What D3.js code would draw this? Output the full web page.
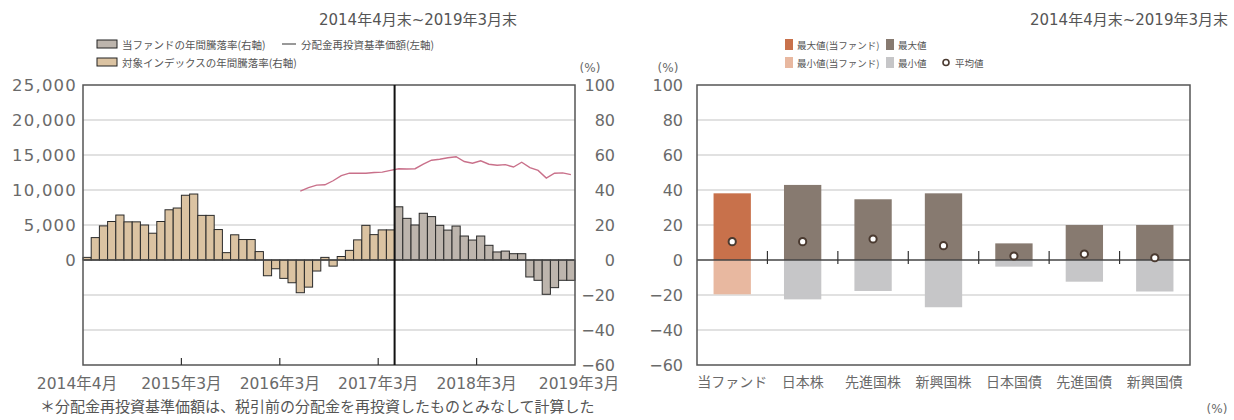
<!DOCTYPE html>
<html><head><meta charset="utf-8">
<script src="https://cdn.jsdelivr.net/npm/d3@7/dist/d3.min.js"></script>
<style>body{margin:0;background:#fff} svg{display:block}</style>
</head><body><svg id="c" width="1234" height="420"></svg>
<script>
// ---------- data ----------
const periodTitle = "2014年4月末~2019年3月末";
const monthTickLabels = ["2014年4月","2015年3月","2016年3月","2017年3月","2018年3月","2019年3月"];
const monthTickKeys = ["2014-04","2015-03","2016-03","2017-03","2018-03","2019-03"];
const leftAxisTicks = [0,5000,10000,15000,20000,25000];
const pctTicks = [-60,-40,-20,0,20,40,60,80,100];
// 対象インデックスの年間騰落率 2014-04 .. 2017-05
const indexReturns = [1.5,12.8,19.5,22,25.7,21.8,21.8,20,15.3,22,28.7,29.7,37,37.7,25.5,25.5,17.4,4.2,14.4,11.7,11.7,4.8,
  -9,-5,-10.5,-13,-18.7,-15.5,-6.3,1.5,-3.5,2,5.5,11.5,19.8,14.5,17.2,17.2];
// 当ファンドの年間騰落率 2017-06 .. 2019-03
const fundReturns = [30.4,23.8,20,26.7,24.8,19.8,17.1,19.4,13.7,11.4,13.7,8.4,4.6,5.1,3.6,3.6,-9.7,-11.6,-19.6,-15.8,-11.6,-11.6];
// 分配金再投資基準価額 2016-06 .. 2019-03
const navValues = [9850,10340,10690,10740,11320,12060,12400,12400,12400,12500,12550,12800,13040,13000,13040,13680,14260,14400,14600,14750,
  14070,13820,14170,13680,13530,13630,13280,13970,13190,12800,11700,12400,12450,12200];
const leftLegend1 = "当ファンドの年間騰落率(右軸)";
const leftLegend2 = "対象インデックスの年間騰落率(右軸)";
const leftLegendLine = "分配金再投資基準価額(左軸)";
const noteText = "＊分配金再投資基準価額は、税引前の分配金を再投資したものとみなして計算した";

const categories = ["当ファンド","日本株","先進国株","新興国株","日本国債","先進国債","新興国債"];
const maxValues = [38.1,42.9,34.7,38.1,9.5,20,20];
const minValues = [-19.6,-22.5,-17.7,-27,-3.8,-12.4,-18];
const avgValues = [10.5,10.5,12,8.2,2.3,3.4,1.3];
const rightLegend = ["最大値(当ファンド)","最大値","最小値(当ファンド)","最小値","平均値"];

// ---------- helpers ----------
const svg = d3.select("#c");
const fmtKey = d3.timeFormat("%Y-%m");
const months = d3.timeMonth.range(new Date(2014,3,1), new Date(2019,3,1)).map(fmtKey);
const navStart = months.indexOf("2016-06");
const fundStart = months.indexOf("2017-06");
const TXT = "#6a6a6a";
const FONT = "'DejaVu Sans','Noto Sans CJK JP',sans-serif";
const CJK = "'Noto Sans CJK JP',sans-serif";
const GRID = "#c4c4c4";

const yTop = 85, yBot = 365;

// ================= LEFT CHART =================
const L = {x0:83, x1:575};
const x = d3.scaleBand().domain(months).range([L.x0, L.x1]).padding(0);
const yR = d3.scaleLinear().domain([-60,100]).range([yBot, yTop]);
const yL = d3.scaleLinear().domain([0,25000]).range([yR(0), yR(100)]);

const gl = svg.append("g");
gl.selectAll("line.grid").data(pctTicks.filter(d=>d!==0 && d!==100 && d!==-60)).enter().append("line")
  .attr("x1",L.x0).attr("x2",L.x1).attr("y1",d=>yR(d)).attr("y2",d=>yR(d))
  .attr("stroke",GRID).attr("stroke-width",1.2);

const barData = months.map((m,i)=>({m, v: i<fundStart ? indexReturns[i] : fundReturns[i-fundStart], fund: i>=fundStart}));
gl.selectAll("rect.bar").data(barData).enter().append("rect")
  .attr("x",d=>x(d.m)).attr("width",x.bandwidth())
  .attr("y",d=>Math.min(yR(d.v),yR(0))).attr("height",d=>Math.abs(yR(d.v)-yR(0)))
  .attr("fill",d=>d.fund?"#bdb5ad":"#dbc3a2")
  .attr("stroke","#2a2a2a").attr("stroke-width",1);

const navData = navValues.map((v,i)=>({m:months[navStart+i], v}));
gl.append("path").datum(navData)
  .attr("d", d3.line().x(d=>x(d.m)+x.bandwidth()/2).y(d=>yL(d.v)))
  .attr("fill","none").attr("stroke","#c9708a").attr("stroke-width",1.4);

gl.append("line").attr("x1",L.x0).attr("x2",L.x1).attr("y1",yR(0)).attr("y2",yR(0))
  .attr("stroke","#444").attr("stroke-width",1.5);
gl.append("rect").attr("x",L.x0).attr("y",yTop).attr("width",L.x1-L.x0).attr("height",yBot-yTop)
  .attr("fill","none").attr("stroke","#555").attr("stroke-width",1.5);
gl.append("line").attr("x1",x(months[fundStart])).attr("x2",x(months[fundStart]))
  .attr("y1",yTop).attr("y2",yBot).attr("stroke","#111").attr("stroke-width",2);

const tickX = k => k===monthTickKeys[0] ? x(k) : x(k)+x.bandwidth();
gl.selectAll("line.xt").data(monthTickKeys.slice(1,-1)).enter().append("line")
  .attr("x1",tickX).attr("x2",tickX).attr("y1",yBot).attr("y2",yBot-7)
  .attr("stroke","#333").attr("stroke-width",1.2);
gl.selectAll("text.xl").data(monthTickKeys).enter().append("text")
  .attr("x",(d,i)=>tickX(d) + (i===0?-6:(i===5?4:0))).attr("y",389).attr("text-anchor","middle")
  .attr("font-family",FONT).attr("font-size",15.5).attr("fill",TXT)
  .text((d,i)=>monthTickLabels[i]);

const axL = d3.axisLeft(yL).tickValues(leftAxisTicks).tickSize(0).tickPadding(6).tickFormat(d3.format(","));
const gAL = gl.append("g").attr("transform",`translate(${L.x0},0)`).call(axL);
gAL.select(".domain").remove();
gAL.selectAll("text").attr("font-family",FONT).attr("font-size",16.5).attr("letter-spacing",1.2).attr("fill",TXT);
const axR = d3.axisRight(yR).tickValues(pctTicks).tickSize(0).tickPadding(0);
const gAR = gl.append("g").attr("transform",`translate(${L.x1},0)`).call(axR);
gAR.select(".domain").remove();
gAR.selectAll("text").attr("x",40).attr("text-anchor","end").attr("font-family",FONT).attr("font-size",16).attr("fill",TXT);
gl.append("text").attr("x",590).attr("y",72).attr("text-anchor","middle").attr("font-family",FONT)
  .attr("font-size",12).attr("fill",TXT).text("(%)");

gl.append("text").attr("x",517).attr("y",25).attr("text-anchor","end").attr("font-family",FONT)
  .attr("font-size",15).attr("fill","#555").text(periodTitle);
gl.append("rect").attr("x",97).attr("y",40).attr("width",20).attr("height",8).attr("fill","#bdb5ad").attr("stroke","#222");
gl.append("text").attr("x",122).attr("y",48.5).attr("font-family",CJK).attr("font-size",10.5).attr("fill","#555").text(leftLegend1);
gl.append("line").attr("x1",282).attr("x2",296).attr("y1",44).attr("y2",44).attr("stroke","#555").attr("stroke-width",1.2);
gl.append("text").attr("x",301).attr("y",48.5).attr("font-family",CJK).attr("font-size",10.5).attr("fill","#555").text(leftLegendLine);
gl.append("rect").attr("x",97).attr("y",58).attr("width",20).attr("height",8).attr("fill","#dbc3a2").attr("stroke","#222");
gl.append("text").attr("x",122).attr("y",66.5).attr("font-family",CJK).attr("font-size",10.5).attr("fill","#555").text(leftLegend2);

gl.append("text").attr("x",40).attr("y",412).attr("font-family",CJK).attr("font-size",15).attr("fill","#555").text(noteText);

// ================= RIGHT CHART =================
const R = {x0:697, x1:1190};
const xc = d3.scaleBand().domain(categories).range([R.x0,R.x1]).paddingInner(0.47).paddingOuter(0.235);
const xb = d3.scaleBand().domain(categories).range([R.x0,R.x1]).padding(0);
const gr = svg.append("g");
gr.selectAll("line.grid").data(pctTicks.filter(d=>d!==0 && d!==100 && d!==-60)).enter().append("line")
  .attr("x1",R.x0).attr("x2",R.x1).attr("y1",d=>yR(d)).attr("y2",d=>yR(d))
  .attr("stroke",GRID).attr("stroke-width",1.2);
const cat = categories.map((c,i)=>({c,max:maxValues[i],min:minValues[i],avg:avgValues[i],fund:i===0}));
gr.selectAll("rect.max").data(cat).enter().append("rect")
  .attr("x",d=>xc(d.c)).attr("width",xc.bandwidth())
  .attr("y",d=>yR(d.max)).attr("height",d=>yR(0)-yR(d.max))
  .attr("fill",d=>d.fund?"#c8714b":"#877a70");
gr.selectAll("rect.min").data(cat).enter().append("rect")
  .attr("x",d=>xc(d.c)).attr("width",xc.bandwidth())
  .attr("y",yR(0)).attr("height",d=>yR(d.min)-yR(0))
  .attr("fill",d=>d.fund?"#e8b8a0":"#c6c6c8");
gr.append("line").attr("x1",R.x0).attr("x2",R.x1).attr("y1",yR(0)).attr("y2",yR(0))
  .attr("stroke","#444").attr("stroke-width",1.5);
gr.selectAll("line.ct").data(categories.slice(1)).enter().append("line")
  .attr("x1",d=>xb(d)).attr("x2",d=>xb(d)).attr("y1",yR(0)+4).attr("y2",yR(0)-9)
  .attr("stroke","#333").attr("stroke-width",1.2);
gr.selectAll("circle.avg").data(cat).enter().append("circle")
  .attr("cx",d=>xc(d.c)+xc.bandwidth()/2).attr("cy",d=>yR(d.avg)).attr("r",3.6)
  .attr("fill","#fff").attr("stroke","#4a3a30").attr("stroke-width",2);
gr.append("rect").attr("x",R.x0).attr("y",yTop).attr("width",R.x1-R.x0).attr("height",yBot-yTop)
  .attr("fill","none").attr("stroke","#555").attr("stroke-width",1.5);
const axR2 = d3.axisLeft(yR).tickValues(pctTicks).tickSize(0).tickPadding(14);
const gA2 = gr.append("g").attr("transform",`translate(${R.x0},0)`).call(axR2);
gA2.select(".domain").remove();
gA2.selectAll("text").attr("font-family",FONT).attr("font-size",16).attr("fill",TXT);
gr.selectAll("text.cl").data(categories).enter().append("text")
  .attr("x",d=>xb(d)+xb.bandwidth()/2).attr("y",387).attr("text-anchor","middle")
  .attr("font-family",CJK).attr("font-size",14).attr("fill",TXT).text(d=>d);
gr.append("text").attr("x",668).attr("y",72).attr("text-anchor","middle").attr("font-family",FONT)
  .attr("font-size",12).attr("fill",TXT).text("(%)");
gr.append("text").attr("x",1228).attr("y",25).attr("text-anchor","end").attr("font-family",FONT)
  .attr("font-size",15).attr("fill","#555").text(periodTitle);
const lg = [
  {x:785,y:39,fill:"#c8714b",t:rightLegend[0]},
  {x:886,y:39,fill:"#877a70",t:rightLegend[1]},
  {x:785,y:57,fill:"#e8b8a0",t:rightLegend[2]},
  {x:886,y:57,fill:"#c6c6c8",t:rightLegend[3]}];
gr.selectAll("rect.lg").data(lg).enter().append("rect")
  .attr("x",d=>d.x).attr("y",d=>d.y).attr("width",8).attr("height",11).attr("fill",d=>d.fill);
gr.selectAll("text.lg").data(lg).enter().append("text")
  .attr("x",d=>d.x+12).attr("y",d=>d.y+9.5).attr("font-family",CJK).attr("font-size",9.5).attr("fill","#555").text(d=>d.t);
gr.append("circle").attr("cx",946).attr("cy",62.5).attr("r",3).attr("fill","#fff").attr("stroke","#4a3a30").attr("stroke-width",1.6);
gr.append("text").attr("x",955).attr("y",66.5).attr("font-family",CJK).attr("font-size",9.5).attr("fill","#555").text(rightLegend[4]);
gr.append("text").attr("x",1217).attr("y",413).attr("text-anchor","middle").attr("font-family",FONT)
  .attr("font-size",12).attr("fill",TXT).text("(%)");
</script></body></html>
